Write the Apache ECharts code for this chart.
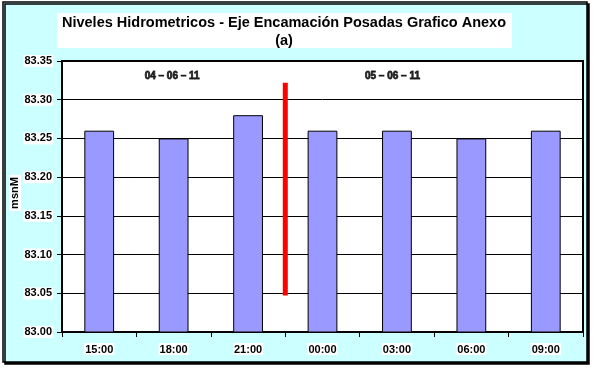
<!DOCTYPE html>
<html>
<head>
<meta charset="utf-8">
<script src="https://cdn.jsdelivr.net/npm/echarts@6/dist/echarts.min.js"></script>
<style>
html,body{margin:0;padding:0;background:#fff;}
#c{width:595px;height:373px;}
</style>
</head>
<body>
<div id="c"></div>
<script>
var categories = ['15:00','18:00','21:00','00:00','03:00','06:00','09:00'];
var levels = [83.26, 83.25, 83.28, 83.26, 83.26, 83.25, 83.26];
var dayChangeLine = [[3, 83.047], [3, 83.322]];
var dateLabels = [[1.48, 83.33, '04 – 06 – 11'], [4.44, 83.33, '05 – 06 – 11']];
var titleLines = ['Niveles Hidrometricos - Eje Encamación Posadas Grafico Anexo', '(a)'];
var yName = 'msnM';

var chart = echarts.init(document.getElementById('c'), null, {renderer:'canvas'});
var FONT = 'Liberation Sans';
var lblStyle = {color:'#000', fontFamily:FONT, fontWeight:'bold', fontSize:11, backgroundColor:'#fff', padding:[1,1,0,1]};

chart.setOption({
  animation:false,
  backgroundColor:'#fff',
  graphic:[
    {type:'rect', z:-10, shape:{x:3,y:2,width:584,height:360},
     style:{fill:'#CCFFFF', stroke:'#000', lineWidth:1.5, shadowColor:'#000', shadowOffsetX:2, shadowOffsetY:2, shadowBlur:0}},
    {type:'rect', z:-5, shape:{x:57,y:13,width:455,height:35}, style:{fill:'#fff'}},
    {type:'text', z:5, style:{x:284, y:14, text:titleLines.join('\n'), fontFamily:FONT, fontWeight:'bold', fontSize:14.5, lineHeight:18, fill:'#000', align:'center', verticalAlign:'top'}},
    {type:'text', z:5, x:15, y:193, rotation:Math.PI/2,
     style:{x:0, y:0, text:yName, fontFamily:FONT, fontWeight:'bold', fontSize:11, fill:'#000', align:'center', verticalAlign:'middle', backgroundColor:'#fff', padding:[1,2,0,2]}}
  ],
  grid:{left:62, right:12, top:61, bottom:41, outerBoundsMode:'none', containLabel:false, show:true, backgroundColor:'#fff', borderColor:'#000', borderWidth:2},
  xAxis:[
    {type:'category', data:categories, boundaryGap:true,
     axisLine:{lineStyle:{color:'#000', width:2}},
     axisTick:{show:true, inside:false, length:5, alignWithLabel:false, lineStyle:{color:'#000'}},
     axisLabel:Object.assign({margin:11}, lblStyle),
     splitLine:{show:false}},
    {type:'value', min:0, max:7, show:false}
  ],
  yAxis:{type:'value', min:83.00, max:83.35, interval:0.05,
     axisLine:{show:true, lineStyle:{color:'#000', width:2}},
     axisTick:{show:true, length:5, lineStyle:{color:'#000'}},
     axisLabel:Object.assign({margin:9, formatter:function(v){return v.toFixed(2);}}, lblStyle),
     splitLine:{show:true, lineStyle:{color:'#000', width:1}}},
  series:[
    {type:'bar', data:levels, barWidth:'40%',
     itemStyle:{color:'#9999FF', borderColor:'#000', borderWidth:1}},
    {type:'line', xAxisIndex:1, data:dayChangeLine, symbol:'none',
     lineStyle:{color:'#FF0000', width:5, cap:'butt'}, z:5},
    {type:'scatter', xAxisIndex:1, symbolSize:0,
     data:dateLabels.map(function(d){return {value:[d[0], d[1]], name:d[2]};}),
     label:{show:true, position:'inside', formatter:function(p){return p.name;}, color:'#000', fontFamily:FONT, fontWeight:'900', fontSize:10, textBorderColor:'#000', textBorderWidth:0.8}}
  ]
});
</script>
</body>
</html>
